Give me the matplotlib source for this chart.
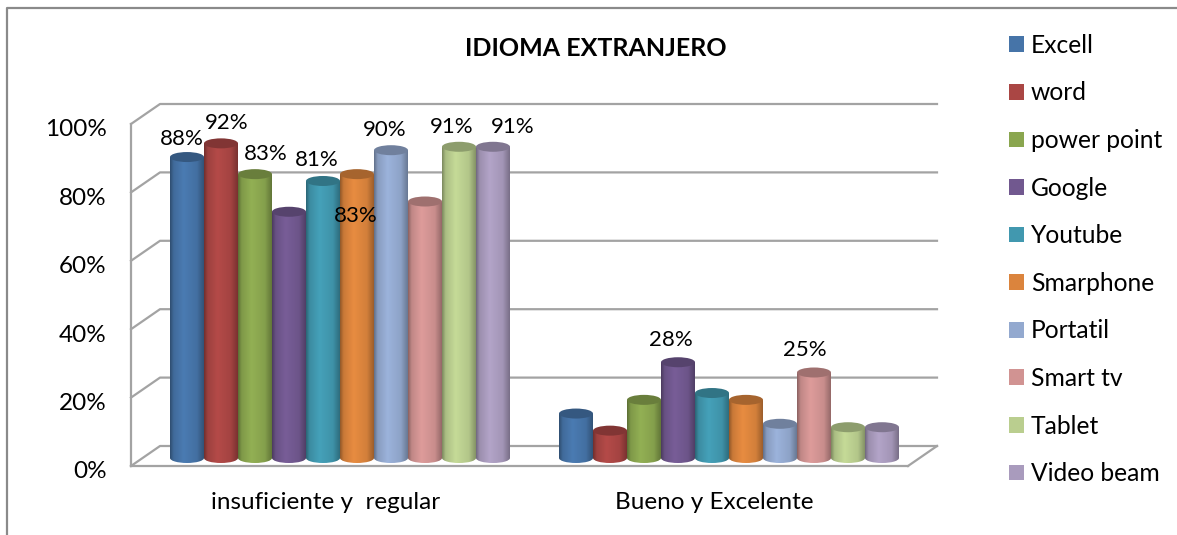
#!/usr/bin/env python3
import numpy as np
import matplotlib
matplotlib.use("Agg")
import matplotlib.pyplot as plt
from matplotlib.lines import Line2D
from matplotlib.patches import Ellipse
from matplotlib.transforms import ScaledTranslation

plt.rcParams["font.family"] = ["Lato", "DejaVu Sans"]

series_names = ["Excell", "word", "power point", "Google", "Youtube",
                "Smarphone", "Portatil", "Smart tv", "Tablet", "Video beam"]
categories = ["insuficiente y  regular", "Bueno y Excelente"]
insuficiente = [88, 92, 83, 72, 81, 83, 90, 75, 91, 91]
bueno = [13, 8, 17, 28, 19, 17, 10, 25, 9, 9]
labels_ins = ["88%", "92%", "83%", "", "81%", "83%", "90%", "", "91%", "91%"]
labels_bue = ["", "", "", "28%", "", "", "", "25%", "", ""]
y_ticks = [0, 20, 40, 60, 80, 100]
title = "IDIOMA EXTRANJERO"

colors = ["#4674A8", "#AA4644", "#8AA64F", "#71588F", "#4198AF",
          "#DB843D", "#93A9CF", "#D19392", "#BACE8F", "#A99BBD"]

# label shifts from the top of each bar, pixels
offs_ins = [(-5, 18), (6, 20), (11, 20), (0, 0), (-6, 21),
            (-1, -42), (-6, 20), (0, 0), (-7, 20), (20, 20)]
offs_bue = [(0, 0), (0, 0), (0, 0), (-7, 22), (0, 0),
            (0, 0), (0, 0), (-9, 22), (0, 0), (0, 0)]

W, H = 1177, 535
PX_X = 389.0    # pixels per category
PX_Y = 3.42     # pixels per percent
DEPTH_X = 29 / PX_X
DEPTH_Y = 20 / PX_Y
FLOOR = -8 / PX_Y
BAR_W = 34 / PX_X
RY = 5 / PX_Y
GRID = "#a3a3a3"


def gradient_bar(ax, x0, x1, y0, y1, color, clip):
    rgb = np.array(matplotlib.colors.to_rgb(color))
    pos = np.linspace(0, 1, 40)
    shade = np.interp(pos, [0, 0.1, 0.4, 0.8, 1], [0.68, 0.92, 1.06, 0.96, 0.72])
    img = np.clip(shade[None, :, None] * rgb[None, None, :], 0, 1)
    im = ax.imshow(img, extent=(x0, x1, y0, y1), aspect="auto",
                   interpolation="bilinear", zorder=3)
    im.set_clip_path(clip)


def main():
    fig = plt.figure(figsize=(W / 100, H / 100), dpi=100)
    left, right, top, bottom = 131, 937, 104, 466
    ax = fig.add_axes([left / W, 1 - bottom / H, (right - left) / W, (bottom - top) / H])
    ax.patch.set_alpha(0)

    x_pos = np.arange(len(categories))
    xlim = (-(340 - left) / PX_X, (right - 340) / PX_X)
    ylim = (FLOOR, 100 + FLOOR + DEPTH_Y)

    # walls and floor
    for v in y_ticks:
        ax.plot([xlim[0], xlim[0] + DEPTH_X, xlim[1]],
                [v + FLOOR, v + FLOOR + DEPTH_Y, v + FLOOR + DEPTH_Y],
                color=GRID, lw=1.6, zorder=1, clip_on=False)
    ax.plot([xlim[1] - DEPTH_X, xlim[1]], [FLOOR, FLOOR + DEPTH_Y],
            color=GRID, lw=1.6, zorder=1, clip_on=False)

    n = len(series_names)
    for i, name in enumerate(series_names):
        xs = x_pos + (i - (n - 1) / 2) * BAR_W
        vals = [insuficiente[i], bueno[i]]
        bars = ax.bar(xs, vals, BAR_W, color=colors[i], label=name, zorder=2)
        dark = tuple(0.76 * c for c in matplotlib.colors.to_rgb(colors[i]))
        for x, v, rect in zip(xs, vals, bars):
            gradient_bar(ax, x - BAR_W / 2, x + BAR_W / 2, 0, v, colors[i], rect)
            base = Ellipse((x, 0), BAR_W, 2 * RY, fc="none", ec="none", zorder=3)
            ax.add_patch(base)
            gradient_bar(ax, x - BAR_W / 2, x + BAR_W / 2, -RY, RY, colors[i], base)
            ax.add_patch(Ellipse((x, v), BAR_W, 2 * RY, fc=dark, ec="none", zorder=4))

    # data labels
    for c, (labels, offs) in enumerate([(labels_ins, offs_ins), (labels_bue, offs_bue)]):
        vals = insuficiente if c == 0 else bueno
        for i, lab in enumerate(labels):
            if lab:
                x = x_pos[c] + (i - (n - 1) / 2) * BAR_W
                ax.annotate(lab, (x, vals[i]), xytext=offs[i], textcoords="offset pixels",
                            ha="center", va="center", fontsize=16, color="black", zorder=6)

    ax.set_xlim(*xlim)
    ax.set_ylim(*ylim)
    ax.set_yticks([v + FLOOR for v in y_ticks])
    ax.set_yticklabels([f"{v}%" for v in y_ticks])
    ax.set_xticks(x_pos - DEPTH_X / 2)
    ax.set_xticklabels(categories)
    ax.tick_params(axis="both", length=0, labelsize=17.5)
    ax.tick_params(axis="y", pad=17.5)
    ax.tick_params(axis="x", pad=18.5)
    shift = ScaledTranslation(0, -4 / 100, fig.dpi_scale_trans)
    for lab in ax.get_yticklabels():
        lab.set_transform(lab.get_transform() + shift)
    for s in ["top", "right"]:
        ax.spines[s].set_visible(False)
    ax.spines["left"].set_color(GRID)
    ax.spines["bottom"].set_color(GRID)
    ax.spines["left"].set_linewidth(1.6)
    ax.spines["bottom"].set_linewidth(1.6)
    ax.spines["left"].set_bounds(FLOOR, 100 + FLOOR)
    ax.spines["bottom"].set_bounds(xlim[0], xlim[1] - DEPTH_X)

    fig.text(596 / W, 1 - 48 / H, title, ha="center", va="center",
             fontsize=18, fontweight="bold")

    handles, names = ax.get_legend_handles_labels()
    fig.legend(handles, names, loc="upper left", bbox_to_anchor=(1004 / W, 1 - 29 / H),
               frameon=False, fontsize=17.7, handlelength=0.61, handleheight=0.61,
               handletextpad=0.28, labelspacing=1.0, borderpad=0.2, borderaxespad=0)

    # outer frame
    fig.add_artist(Line2D([6.5 / W, 6.5 / W, 1], [0, 1 - 8 / H, 1 - 8 / H],
                          color="#8a8a8a", lw=1.6))

    plt.savefig("out.png", dpi=100)


if __name__ == "__main__":
    main()
